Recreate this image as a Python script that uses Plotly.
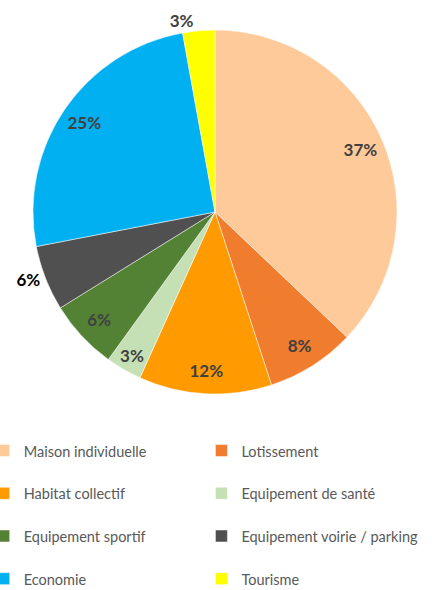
import plotly.graph_objects as go

labels = ["Maison individuelle", "Lotissement", "Habitat collectif", "Equipement de santé",
          "Equipement sportif", "Equipement voirie / parking", "Economie", "Tourisme"]
values = [37.1, 7.9, 11.8, 3.2, 6.2, 5.8, 25.2, 2.85]
colors = ["#FFCA99", "#F07C2E", "#FF9A00", "#C5E0B4", "#548235", "#505050", "#00B0F0", "#FFFF00"]
text_pos = ["inside", "inside", "inside", "inside", "inside", "outside", "inside", "outside"]
text_colors = ["#404040", "#404040", "#404040", "#404040", "#404040", "#000000", "#404040", "#404040"]

W, H = 432, 590
cx, cy, r = 215, 212, 182
dom = dict(x=[(cx - r) / W, (cx + r) / W], y=[1 - (cy + r) / H, 1 - (cy - r) / H])
# empty first line gives the legend rows the reference's tall spacing
legend_names = ['<br><span style="font-size:14.5px">' + l + "</span>" for l in labels]

fig = go.Figure()
# coloured slices + legend
fig.add_trace(go.Pie(
    labels=legend_names, values=values, sort=False, direction="clockwise", rotation=0,
    marker=dict(colors=colors, line=dict(color="white", width=0.5)),
    textinfo="none", hoverinfo="percent", domain=dom, showlegend=True,
))
# transparent ring carrying the percentage labels (places them near the rim)
fig.add_trace(go.Pie(
    labels=legend_names, values=values, sort=False, direction="clockwise", rotation=0,
    hole=0.74,
    marker=dict(colors=["rgba(0,0,0,0)"] * len(values), line=dict(width=0)),
    texttemplate="%{percent:.0%}", textposition=text_pos,
    insidetextorientation="horizontal",
    insidetextfont=dict(family="Lato", size=17, color="#404040", weight="bold"),
    outsidetextfont=dict(family="Lato", size=17, color=text_colors, weight="bold"),
    hoverinfo="skip", domain=dom, showlegend=False,
))

fig.update_layout(
    width=W, height=H,
    margin=dict(l=0, r=0, t=0, b=0, autoexpand=False),
    paper_bgcolor="white", plot_bgcolor="white",
    uniformtext=dict(minsize=17, mode="show"),
    legend=dict(
        orientation="h",
        x=0.4727, xanchor="center",
        y=0.2978, yanchor="top",
        entrywidthmode="fraction",
        entrywidth=0.504,
        valign="bottom",
        font=dict(family="Lato", size=15.27, color="#595959"),
        bgcolor="rgba(0,0,0,0)",
    ),
)

fig.write_html("out.html")
